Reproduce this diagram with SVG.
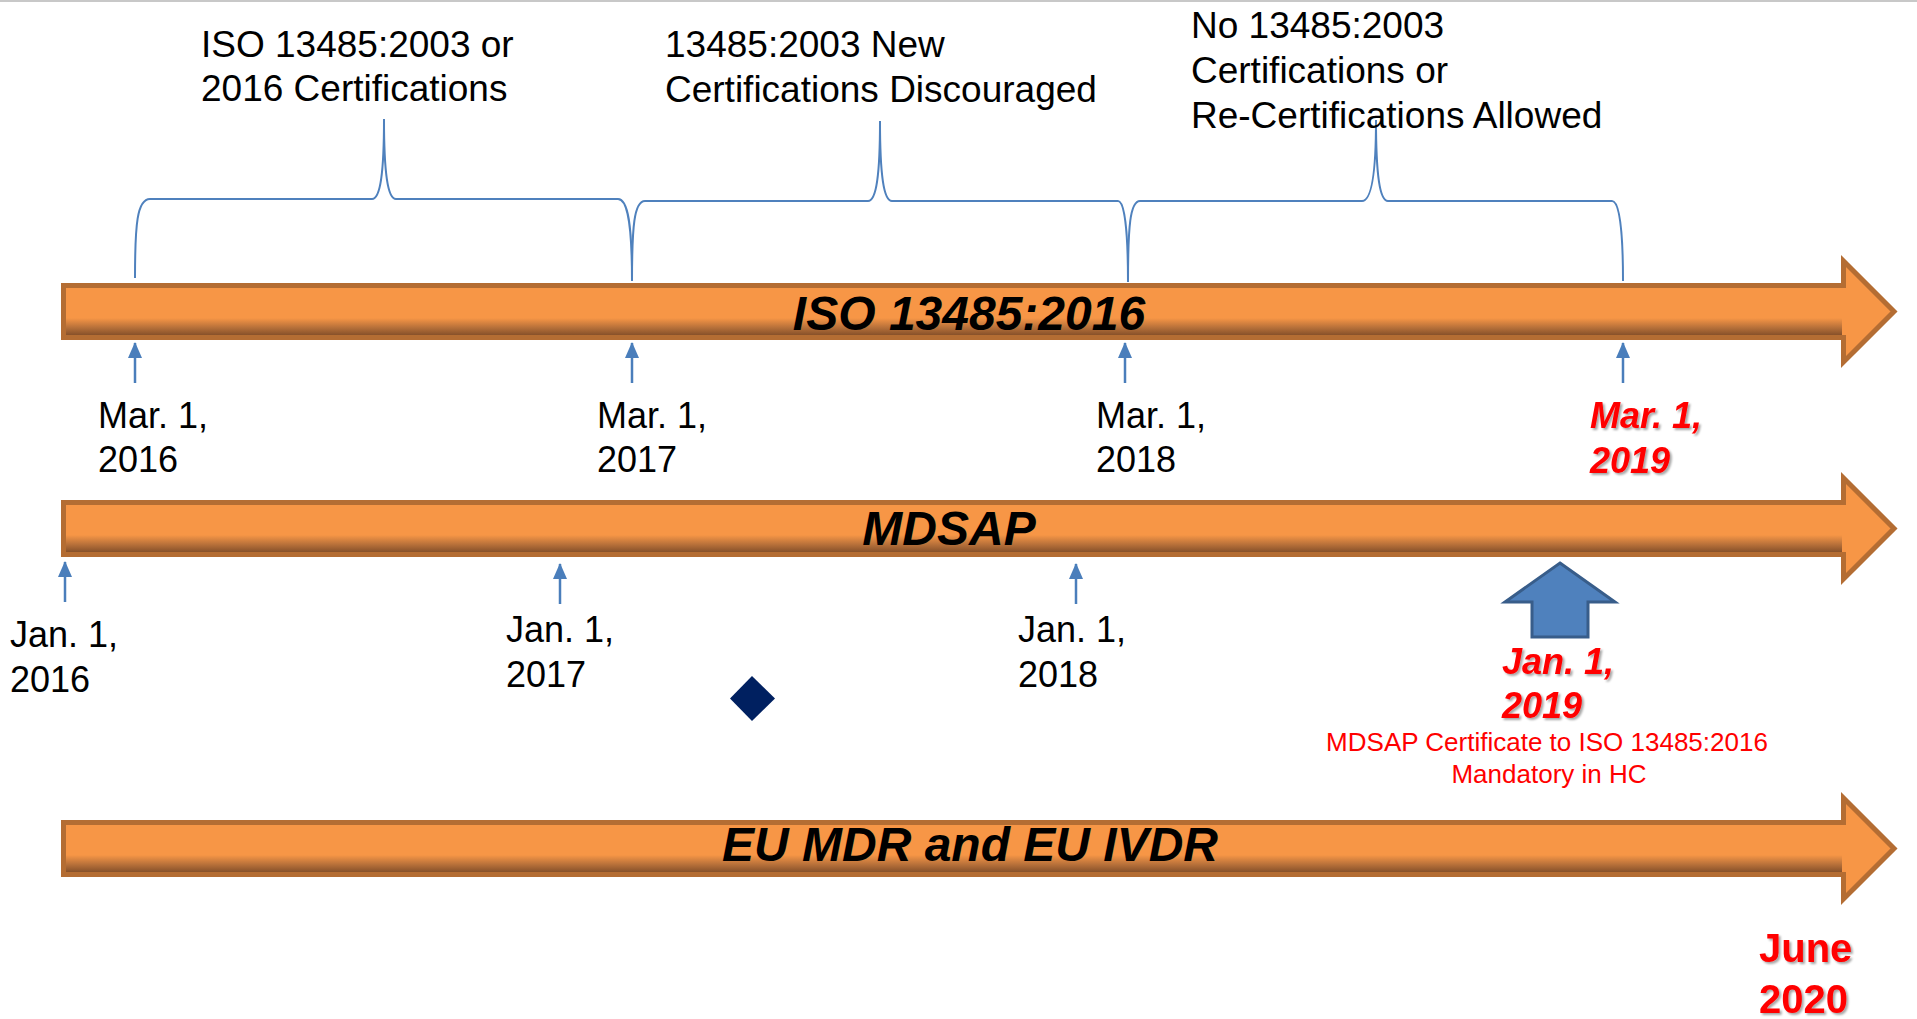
<svg xmlns="http://www.w3.org/2000/svg" width="1917" height="1019" viewBox="0 0 1917 1019">
<defs>
<style>
.bar{fill:#f79646;stroke:#b46d33;stroke-width:5;stroke-linejoin:miter}
.band{fill:url(#bandG)}
.bt{font-family:"Liberation Sans",Arial,sans-serif;font-weight:bold;font-style:italic;font-size:48px;fill:#000;text-anchor:middle}
.lb{font-family:"Liberation Sans",Arial,sans-serif;font-size:36px;fill:#000}
.tp{font-family:"Liberation Sans",Arial,sans-serif;font-size:37px;fill:#000}
.rd{font-family:"Liberation Sans",Arial,sans-serif;font-size:36px;font-weight:bold;font-style:italic;fill:#ff0000;filter:url(#sh)}
.rj{font-family:"Liberation Sans",Arial,sans-serif;font-size:40px;font-weight:bold;fill:#ff0000;filter:url(#sh)}
.sm{font-family:"Liberation Sans",Arial,sans-serif;font-size:26px;fill:#ff0000;text-anchor:middle}
.brace{fill:none;stroke:#4f81bd;stroke-width:2}
.tick{stroke:#4a7ebb;stroke-width:2.5;marker-end:url(#ah)}
</style>
<linearGradient id="bandG" x1="0" y1="0" x2="0" y2="1">
<stop offset="0" stop-color="#f79646"/>
<stop offset="0.55" stop-color="#b8713a"/>
<stop offset="1" stop-color="#87512a"/>
</linearGradient>
<marker id="ah" markerUnits="userSpaceOnUse" markerWidth="16" markerHeight="16" viewBox="0 0 16 16" refX="15" refY="8" orient="auto">
<path d="M0,1 L16,8 L0,15 z" fill="#4a7ebb"/>
</marker>
<filter id="sh" x="-10%" y="-10%" width="130%" height="140%">
<feDropShadow dx="2" dy="2" stdDeviation="1.2" flood-color="#000" flood-opacity="0.35"/>
</filter>
</defs>
<rect width="1917" height="1019" fill="#fff"/>
<line x1="0" y1="1" x2="1917" y2="1" stroke="#c8c8c8" stroke-width="2"/>

<g id="bar-iso">
<path class="bar" d="M63.5,285.5 L1843.5,285.5 L1843.5,261 L1894,311.5 L1843.5,362 L1843.5,337.5 L63.5,337.5 Z"/>
<rect class="band" x="66" y="318" width="1776" height="17"/>
<text class="bt" x="969" y="330">ISO 13485:2016</text>
</g>
<g id="bar-mdsap">
<path class="bar" d="M63.5,502.5 L1843.5,502.5 L1843.5,478 L1894,528.5 L1843.5,579 L1843.5,554.5 L63.5,554.5 Z"/>
<rect class="band" x="66" y="535" width="1776" height="17"/>
<text class="bt" x="949" y="545">MDSAP</text>
</g>
<g id="bar-eu">
<path class="bar" d="M63.5,822.5 L1843.5,822.5 L1843.5,798 L1894,848.5 L1843.5,899 L1843.5,874.5 L63.5,874.5 Z"/>
<rect class="band" x="66" y="855" width="1776" height="17"/>
<text class="bt" x="970" y="861">EU MDR and EU IVDR</text>
</g>

<g id="brace1">
<path class="brace" d="M135,278 C135,225 137,199 150,199 L372,199 C380,199 384,175 384,119 C384,175 388,199 396,199 L618,199 C628,199 632,225 632,281"/>
<text class="tp" x="201" y="57">ISO 13485:2003 or</text>
<text class="tp" x="201" y="101">2016 Certifications</text>
</g>
<g id="brace2">
<path class="brace" d="M632,281 C632,227 634,201 645,201 L868,201 C876,201 880,177 880,121 C880,177 884,201 892,201 L1118,201 C1124,201 1128,227 1128,282"/>
<text class="tp" x="665" y="57">13485:2003 New</text>
<text class="tp" x="665" y="102">Certifications Discouraged</text>
</g>
<g id="brace3">
<path class="brace" d="M1128,282 C1128,227 1130,201 1140,201 L1362,201 C1371,201 1376,177 1376,120 C1376,177 1380,201 1388,201 L1612,201 C1619,201 1623,227 1623,281"/>
<text class="tp" x="1191" y="38">No 13485:2003</text>
<text class="tp" x="1191" y="83">Certifications or</text>
<text class="tp" x="1191" y="128">Re-Certifications Allowed</text>
</g>

<g id="connectors">
<line class="tick" x1="135" y1="383" x2="135" y2="343"/>
<line class="tick" x1="632" y1="383" x2="632" y2="343"/>
<line class="tick" x1="1125" y1="383" x2="1125" y2="343"/>
<line class="tick" x1="1623" y1="383" x2="1623" y2="343"/>
<line class="tick" x1="65" y1="602" x2="65" y2="562"/>
<line class="tick" x1="560" y1="604" x2="560" y2="564"/>
<line class="tick" x1="1076" y1="604" x2="1076" y2="564"/>
</g>

<g id="mar2016"><text class="lb" x="98" y="428">Mar. 1,</text><text class="lb" x="98" y="472">2016</text></g>
<g id="mar2017"><text class="lb" x="597" y="428">Mar. 1,</text><text class="lb" x="597" y="472">2017</text></g>
<g id="mar2018"><text class="lb" x="1096" y="428">Mar. 1,</text><text class="lb" x="1096" y="472">2018</text></g>
<g id="mar2019"><text class="rd" x="1590" y="428">Mar. 1,</text><text class="rd" x="1590" y="473">2019</text></g>

<g id="jan2016"><text class="lb" x="10" y="647">Jan. 1,</text><text class="lb" x="10" y="692">2016</text></g>
<g id="jan2017"><text class="lb" x="506" y="642">Jan. 1,</text><text class="lb" x="506" y="687">2017</text></g>
<g id="jan2018"><text class="lb" x="1018" y="642">Jan. 1,</text><text class="lb" x="1018" y="687">2018</text></g>

<g id="jan2019">
<path d="M1560,563 L1615,602 L1588,602 L1588,637 L1532,637 L1532,602 L1505,602 Z" fill="#4f81bd" stroke="#385d8a" stroke-width="3" stroke-linejoin="miter"/>
<text class="rd" x="1502" y="674">Jan. 1,</text>
<text class="rd" x="1502" y="718">2019</text>
<text class="sm" x="1547" y="751">MDSAP Certificate to ISO 13485:2016</text>
<text class="sm" x="1549" y="783">Mandatory in HC</text>
</g>

<g id="diamond"><path d="M752,676 L775,698.5 L752,721 L730,698.5 Z" fill="#002060"/></g>

<g id="june2020"><text class="rj" x="1759" y="962">June</text><text class="rj" x="1759" y="1013">2020</text></g>
</svg>
